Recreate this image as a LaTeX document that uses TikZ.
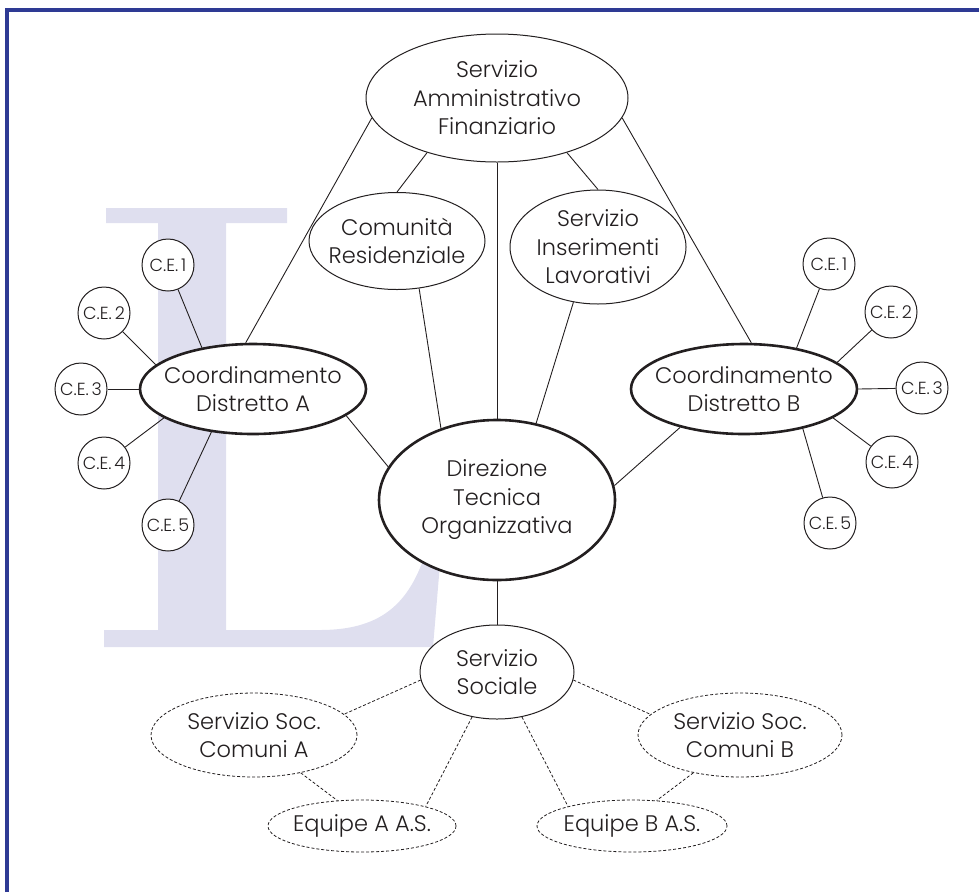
\documentclass[tikz,border=0pt]{standalone}
\usepackage{fontspec}
\IfFontExistsTF{Poppins Light}{\setmainfont{Poppins Light}}{\setmainfont{Poppins}}
\usetikzlibrary{shapes.geometric}
\definecolor{frameblue}{RGB}{46,58,148}
\definecolor{lavender}{RGB}{223,223,239}
\definecolor{inkgray}{RGB}{35,31,32}
\begin{document}
\begin{tikzpicture}[x=1pt,y=-1pt,
    unit/.style={ellipse, draw=inkgray, line width=1pt, fill=white, inner sep=-30pt,
        align=center, text=inkgray, font=\fontsize{22.5}{28.5}\selectfont},
    mainunit/.style={unit, line width=2.6pt},
    outunit/.style={unit, dashed, dash pattern=on 3pt off 2pt, line width=0.8pt},
    cebox/.style={circle, draw=inkgray, line width=1pt, fill=white, inner sep=0pt,
        minimum size=52pt, text=inkgray, font=\fontsize{17.5}{19}\selectfont},
    link/.style={inkgray, line width=0.9pt},
    dlink/.style={inkgray, line width=0.8pt, dashed, dash pattern=on 3pt off 2pt}]
    \useasboundingbox (0,0) rectangle (979,892);
    % Frame
    \draw[frameblue, line width=4pt] (7,892) -- (7,10) -- (979,10);
    % Background letter
    \fill[lavender] (106,208) -- (287,208) -- (287,223) -- (226,223) -- (226,630) -- (320,630)
        .. controls (385,630) and (412,600) .. (428,545) -- (442,540) -- (433,647)
        -- (104,647) -- (104,630) -- (158,630) -- (158,223) -- (106,223) -- cycle;
    % Units
    \node[unit, minimum width=262pt, minimum height=128pt] (saf) at (497,98) {Servizio\\Amministrativo\\Finanziario};
    \node[unit, minimum width=176pt, minimum height=97pt] (com) at (397,241) {Comunità\\Residenziale};
    \node[unit, minimum width=176pt, minimum height=114pt] (sil) at (598,247) {Servizio\\Inserimenti\\Lavorativi};
    \node[mainunit, minimum width=226pt, minimum height=90pt] (coordA) at (253,389) {Coordinamento\\Distretto A};
    \node[mainunit, minimum width=226pt, minimum height=90pt] (coordB) at (744,389) {Coordinamento\\Distretto B};
    \node[mainunit, minimum width=236pt, minimum height=160pt] (dir) at (497,500) {Direzione\\Tecnica\\Organizzativa};
    \node[unit, minimum width=154pt, minimum height=94pt] (ss) at (497,672) {Servizio\\Sociale};
    \node[outunit, minimum width=206pt, minimum height=84pt] (ssA) at (254,735) {Servizio Soc.\\Comuni A};
    \node[outunit, minimum width=204pt, minimum height=84pt] (ssB) at (740,735) {Servizio Soc.\\Comuni B};
    \node[outunit, minimum width=188pt, minimum height=52pt] (eqA) at (362,826) {Equipe A A.S.};
    \node[outunit, minimum width=190pt, minimum height=52pt] (eqB) at (632,826) {Equipe B A.S.};
    % Centri educativi
    \node[cebox] (ceA1) at (168,265) {C.E.\,1};
    \node[cebox] (ceA2) at (104,313) {C.E.\,2};
    \node[cebox] (ceA3) at (81,389) {C.E.\,3};
    \node[cebox] (ceA4) at (104,463) {C.E.\,4};
    \node[cebox] (ceA5) at (168,525) {C.E.\,5};
    \node[cebox] (ceB1) at (829,264) {C.E.\,1};
    \node[cebox] (ceB2) at (891,312) {C.E.\,2};
    \node[cebox] (ceB3) at (922,388) {C.E.\,3};
    \node[cebox] (ceB4) at (892,462) {C.E.\,4};
    \node[cebox] (ceB5) at (830,523) {C.E.\,5};
    % Links
    \draw[link] (saf.189) -- (coordA.99);
    \draw[link] (saf.-9) -- (coordB.81);
    \draw[link] (saf.218) -- (com.90);
    \draw[link] (saf.-38) -- (sil.90);
    \draw[link] (saf.south) -- (dir.north);
    \draw[link] (com.-65) -- (dir.128);
    \draw[link] (sil.246) -- (dir.63);
    \draw[link] (coordA.-16) -- (dir.163);
    \draw[link] (coordB.211) -- (dir.7);
    \draw[link] (dir.south) -- (ss.north);
    \draw[link] (ceA1) -- (coordA.141);
    \draw[link] (ceA2) -- (coordA.166);
    \draw[link] (ceA3) -- (coordA.180);
    \draw[link] (ceA4) -- (coordA.198);
    \draw[link] (ceA5) -- (coordA.226);
    \draw[link] (ceB1) -- (coordB.38);
    \draw[link] (ceB2) -- (coordB.16);
    \draw[link] (ceB3) -- (coordB.0);
    \draw[link] (ceB4) -- (coordB.-18);
    \draw[link] (ceB5) -- (coordB.-34);
    % Dashed links
    \draw[dlink] (ss.186) -- (ssA.13);
    \draw[dlink] (ss.241) -- (eqA.17);
    \draw[dlink] (ss.299) -- (eqB.163);
    \draw[dlink] (ss.-6) -- (ssB.167);
    \draw[dlink] (ssA.-39) -- (eqA.134);
    \draw[dlink] (ssB.219) -- (eqB.46);
\end{tikzpicture}
\end{document}
